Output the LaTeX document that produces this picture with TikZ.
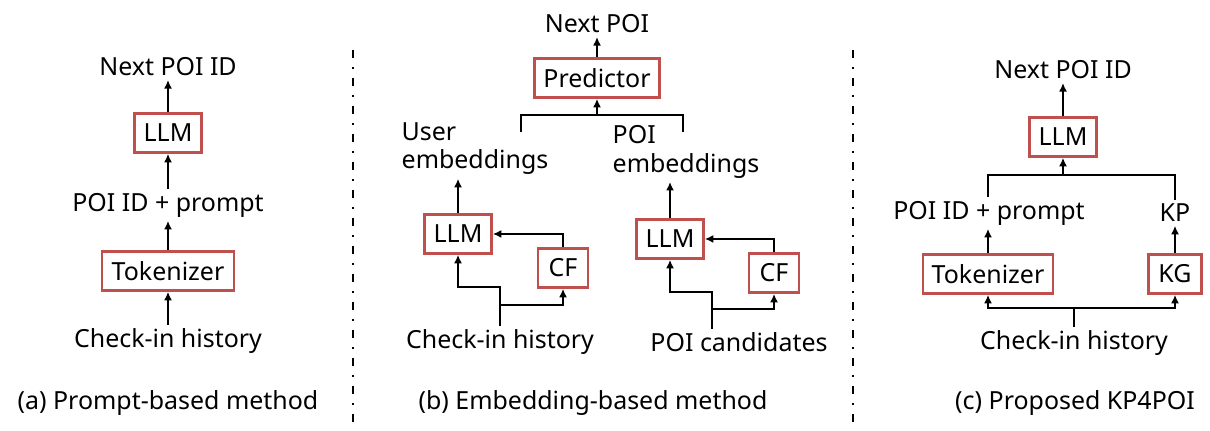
\documentclass[tikz,border=0pt]{standalone}
\usepackage{fontspec}
\setmainfont{Noto Sans}
\usetikzlibrary{arrows.meta}
\definecolor{BoxRed}{HTML}{C0504D}

\begin{document}
\begin{tikzpicture}[x=0.02cm, y=-0.02cm,
  font=\fontsize{14.2}{16}\selectfont,
  box/.style={draw=BoxRed, line width=1.5pt, minimum height=0.78cm, inner sep=0pt},
  lbl/.style={inner sep=2pt},
  arr/.style={-{Latex[length=1.7mm,width=1.6mm]}, line width=1.3pt},
  conn/.style={line width=1.3pt},
  sep/.style={line width=1.3pt, dash pattern=on 0.17cm off 0.17cm on 0.05cm off 0.17cm}
]
\useasboundingbox (0,0) rectangle (1210,431);

% (a) prompt-based
\node[lbl] (nexta) at (168,67) {Next POI ID};
\node[box, minimum width=1.34cm] (llma) at (168,133) {LLM};
\node[lbl] (prma) at (168,205) {POI ID + prompt};
\node[box, minimum width=2.64cm] (toka) at (168,271) {Tokenizer};
\node[lbl] (hista) at (168,341) {Check-in history};
\node[lbl] (capa) at (168,403) {(a) Prompt-based method};
\draw[arr] (llma) -- (nexta);
\draw[arr] (prma) -- (llma);
\draw[arr] (toka) -- (prma);
\draw[arr] (hista) -- (toka);

% dividers
\coordinate (d1t) at (353,50);
\coordinate (d1b) at (353,423);
\coordinate (d2t) at (853,50);
\coordinate (d2b) at (853,423);
\draw[sep] (d1t) -- (d1b);
\draw[sep] (d2t) -- (d2b);

% (b) embedding-based
\node[lbl] (nextb) at (597,24) {Next POI};
\node[box, minimum width=2.5cm] (pred) at (597,78) {Predictor};
\coordinate (brl) at (521,132);
\coordinate (brr) at (683,132);
\coordinate (brm) at (597,115);
\draw[arr] (pred) -- (nextb);
\draw[conn] (brl) |- (brm) -| (brr);
\draw[arr] (brm) -- (pred);

\node[lbl, align=left] (usremb) at (475,149) {User\\embeddings};
\node[box, minimum width=1.34cm] (llmu) at (458,234) {LLM};
\node[box, minimum width=1.0cm] (cfu) at (563,268) {CF};
\node[lbl] (histb) at (500,342) {Check-in history};
\coordinate (jb1) at (500,287);
\coordinate (kb1) at (500,305);
\draw[arr] (llmu) -- (llmu |- usremb.south);
\draw[arr] (cfu) |- (llmu);
\draw[arr] (histb) -- (jb1) -| (llmu);
\draw[arr] (kb1) -| (cfu);

\node[lbl, align=left] (poiemb) at (686,152) {POI\\embeddings};
\node[box, minimum width=1.34cm] (llmp) at (670,239) {LLM};
\node[box, minimum width=1.0cm] (cfp) at (774,273) {CF};
\node[lbl] (cand) at (739,342) {POI candidates};
\coordinate (jb2) at (712,292);
\coordinate (kb2) at (712,309);
\draw[arr] (llmp) -- (llmp |- poiemb.south);
\draw[arr] (cfp) |- (llmp);
\draw[arr] (jb2 |- cand.north) -- (jb2) -| (llmp);
\draw[arr] (kb2) -| (cfp);

\node[lbl] (capb) at (593,403) {(b) Embedding-based method};

% (c) proposed
\node[lbl] (nextc) at (1063,70) {Next POI ID};
\node[box, minimum width=1.34cm] (llmc) at (1063,137) {LLM};
\node[lbl] (prmc) at (989,213) {POI ID + prompt};
\node[lbl] (kp) at (1175,213) {KP};
\node[box, minimum width=2.6cm] (tokc) at (988,274) {Tokenizer};
\node[box, minimum width=1.06cm] (kg) at (1175,274) {KG};
\node[lbl] (histc) at (1074,343) {Check-in history};
\coordinate (topc) at (1063,175);
\coordinate (botc) at (1074,308);
\draw[arr] (llmc) -- (nextc);
\draw[conn] (tokc |- prmc.north) |- (topc) -| (kp);
\draw[arr] (topc) -- (llmc);
\draw[arr] (tokc) -- (tokc |- prmc.south);
\draw[arr] (kg) -- (kp);
\draw[conn] (histc) -- (botc);
\draw[arr] (botc) -| (tokc);
\draw[arr] (botc) -| (kg);

\node[lbl] (capc) at (1075,403) {(c) Proposed KP4POI};
\end{tikzpicture}
\end{document}
